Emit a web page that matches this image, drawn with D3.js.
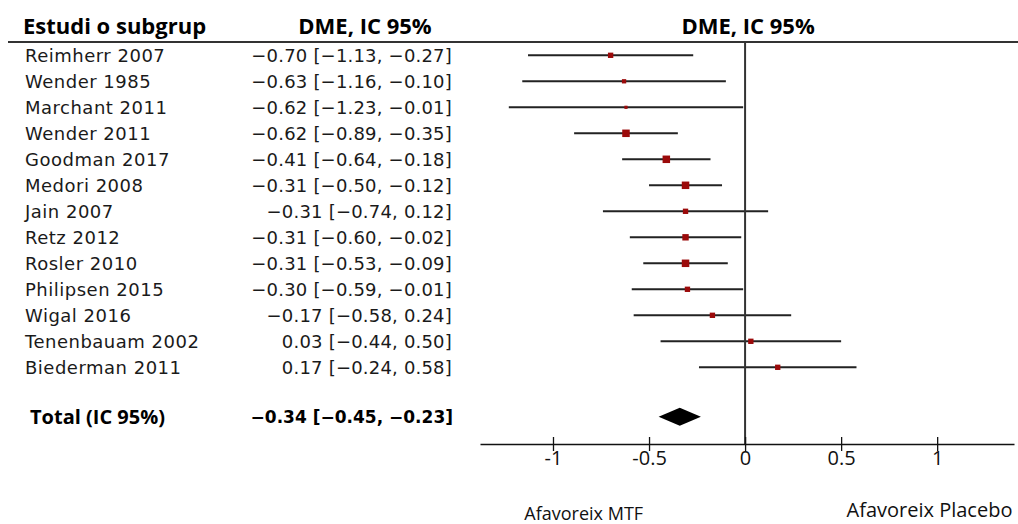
<!DOCTYPE html>
<html>
<head>
<meta charset="utf-8">
<script src="https://cdnjs.cloudflare.com/ajax/libs/d3/7.8.5/d3.min.js"></script>
<style>
  body { margin: 0; background: #fff; }
  svg { display: block; }
</style>
</head>
<body>
<div id="panel1"></div>
<script>
var width = 1018, height = 524;

// study data
var studies = ["Reimherr 2007", "Wender 1985", "Marchant 2011", "Wender 2011", "Goodman 2017",
  "Medori 2008", "Jain 2007", "Retz 2012", "Rosler 2010", "Philipsen 2015", "Wigal 2016",
  "Tenenbauam 2002", "Biederman 2011"];
var smd   = [-0.70, -0.63, -0.62, -0.62, -0.41, -0.31, -0.31, -0.31, -0.31, -0.30, -0.17, 0.03, 0.17];
var lower = [-1.13, -1.16, -1.23, -0.89, -0.64, -0.50, -0.74, -0.60, -0.53, -0.59, -0.58, -0.44, -0.24];
var upper = [-0.27, -0.10, -0.01, -0.35, -0.18, -0.12, 0.12, -0.02, -0.09, -0.01, 0.24, 0.50, 0.58];
// estimated study weights (%) from the box sizes
var weights = [6.2, 4.0, 2.2, 12.2, 12.2, 12.2, 6.2, 8.9, 12.2, 6.2, 6.2, 6.2, 6.2];

var total = {label: "Total (IC 95%)", est: -0.34, lo: -0.45, hi: -0.23};

var tickValues = [-1, -0.5, 0, 0.5, 1];
var headers = ["Estudi o subgrup", "DME, IC 95%", "DME, IC 95%"];
var favourLabels = [{text: "Afavoreix MTF", at: -0.84, base: 520, size: 18},
                    {text: "Afavoreix Placebo", at: 0.96, base: 517, size: 20}];

var fmt = function(v) { return d3.format(".2f")(v).replace("-", "\u2212"); };
var ciText = function(e, l, u) { return fmt(e) + " [" + fmt(l) + ", " + fmt(u) + "]"; };

var svg = d3.select("#panel1").append("svg")
  .attr("width", width)
  .attr("height", height);

var x = d3.scaleLinear().domain([-1.38, 1.4]).range([480, 1014]);
var y = d3.scaleLinear().domain([0, 12]).range([55.3, 367.3]);
var totalRow = 13.9;
var boxSize = d3.scaleSqrt().domain([0, d3.max(weights)]).range([0, 7.5]);

var axisY = 444, headY = 42;

// header
svg.append("line")
  .attr("x1", 8).attr("x2", width)
  .attr("y1", headY).attr("y2", headY)
  .attr("stroke", "#333").attr("stroke-width", 2);

svg.selectAll(".head").data(headers).enter()
  .append("text")
  .attr("class", "head")
  .attr("x", function(d, i) { return [23, 365, x(0) + 3][i]; })
  .attr("y", 34)
  .attr("text-anchor", function(d, i) { return i == 0 ? "start" : "middle"; })
  .attr("font-family", "'Open Sans', Lato, sans-serif")
  .attr("font-weight", "bold")
  .attr("font-size", 22)
  .attr("fill", "#000")
  .text(function(d) { return d; });

// study names + values
var rows = svg.selectAll(".row").data(studies).enter()
  .append("g").attr("class", "row");

rows.append("text")
  .attr("x", 25)
  .attr("y", function(d, i) { return y(i); })
  .attr("dy", "0.36em")
  .attr("font-family", "'DejaVu Sans', sans-serif")
  .attr("font-size", 18)
  .attr("letter-spacing", 0.5)
  .attr("fill", "#1a1a1a")
  .text(function(d) { return d; });

rows.append("text")
  .attr("x", 452)
  .attr("y", function(d, i) { return y(i); })
  .attr("dy", "0.36em")
  .attr("text-anchor", "end")
  .attr("font-family", "'DejaVu Sans', sans-serif")
  .attr("font-size", 18)
  .attr("letter-spacing", 0.2)
  .attr("fill", "#1a1a1a")
  .text(function(d, i) { return ciText(smd[i], lower[i], upper[i]); });

// zero line
svg.append("line")
  .attr("x1", x(0)).attr("x2", x(0))
  .attr("y1", headY).attr("y2", axisY)
  .attr("stroke", "#333").attr("stroke-width", 2);

// CI whiskers and boxes
rows.append("line")
  .attr("x1", function(d, i) { return x(lower[i]); })
  .attr("x2", function(d, i) { return x(upper[i]); })
  .attr("y1", function(d, i) { return y(i); })
  .attr("y2", function(d, i) { return y(i); })
  .attr("stroke", "#222")
  .attr("stroke-width", 2);

rows.append("rect")
  .attr("x", function(d, i) { return x(smd[i]) - boxSize(weights[i]) / 2; })
  .attr("y", function(d, i) { return y(i) - boxSize(weights[i]) / 2; })
  .attr("width", function(d, i) { return boxSize(weights[i]); })
  .attr("height", function(d, i) { return boxSize(weights[i]); })
  .attr("fill", "#9b0a0a");

// total row
var ty = y(totalRow);
svg.append("text")
  .attr("x", 30).attr("y", ty)
  .attr("dy", "0.36em")
  .attr("font-family", "'Open Sans', Lato, sans-serif")
  .attr("font-weight", "bold")
  .attr("font-size", 20)
  .text(total.label);

svg.append("text")
  .attr("x", 453).attr("y", ty)
  .attr("dy", "0.36em")
  .attr("text-anchor", "end")
  .attr("font-family", "'DejaVu Sans', sans-serif")
  .attr("font-weight", "bold")
  .attr("font-size", 17)
  .text(ciText(total.est, total.lo, total.hi));

svg.append("path")
  .attr("d", "M" + x(total.lo) + "," + ty + "L" + x(total.est) + "," + (ty - 9) +
    "L" + x(total.hi) + "," + ty + "L" + x(total.est) + "," + (ty + 9) + "Z")
  .attr("fill", "#000");

// x axis
var gx = svg.append("g")
  .attr("class", "axis")
  .attr("transform", "translate(0," + axisY + ")")
  .call(d3.axisBottom(x).tickValues(tickValues).tickSize(7).tickSizeOuter(0)
    .tickFormat(function(d) { return d3.format("")(d).replace("−", "-"); }));

gx.select(".domain").attr("stroke", "#111").attr("stroke-width", 1.6);
gx.selectAll(".tick line").attr("y1", -7).attr("stroke", "#111").attr("stroke-width", 1.3);
gx.selectAll(".tick text")
  .attr("y", 7)
  .attr("dy", "0.71em")
  .attr("font-family", "'Open Sans', sans-serif")
  .attr("font-size", 20)
  .attr("fill", "#111");

// favour labels
svg.selectAll(".favour").data(favourLabels).enter()
  .append("text")
  .attr("class", "favour")
  .attr("x", function(d) { return x(d.at); })
  .attr("y", function(d) { return d.base; })
  .attr("text-anchor", "middle")
  .attr("font-family", "'Open Sans', sans-serif")
  .attr("font-size", function(d) { return d.size; })
  .attr("fill", "#111")
  .text(function(d) { return d.text; });
</script>
</body>
</html>
